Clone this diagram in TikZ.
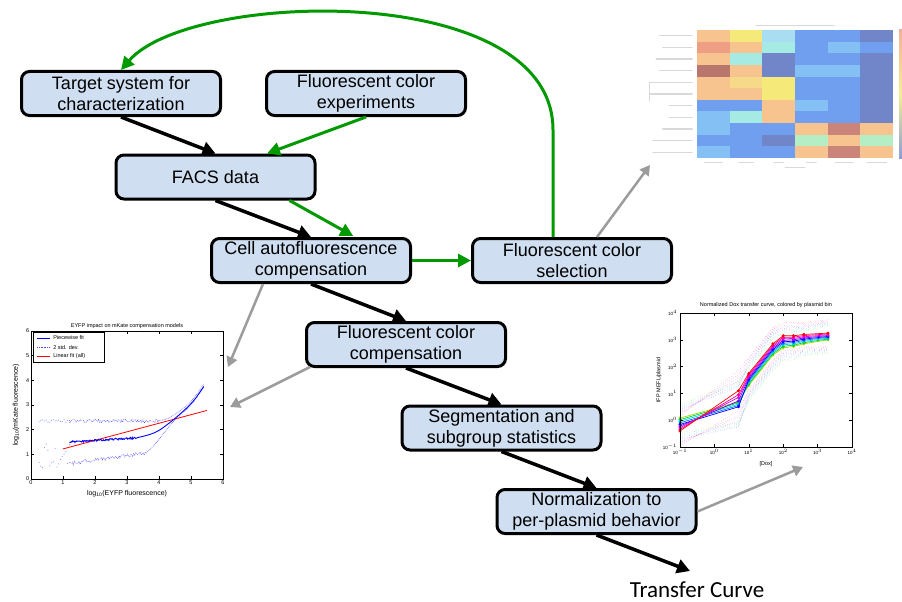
\documentclass[tikz,border=0pt]{standalone}
\usepackage{fontspec}
\setmainfont{Liberation Sans}
\newfontfamily\calfont{Carlito}
\usetikzlibrary{arrows.meta,calc}
\definecolor{boxblue}{HTML}{CFDFF1}
\definecolor{gr}{HTML}{009A00}
\definecolor{lgray}{HTML}{9C9C9C}
% heatmap colours (faded)
\definecolor{hO}{HTML}{F7C48F}
\definecolor{hY}{HTML}{F5E97A}
\definecolor{hLC}{HTML}{A9DDF2}
\definecolor{hCY}{HTML}{A6EBE3}
\definecolor{hB}{HTML}{6F9FEE}
\definecolor{hLB}{HTML}{85C0F4}
\definecolor{hDB}{HTML}{7086C9}
\definecolor{hSA}{HTML}{EE9E82}
\definecolor{hBR}{HTML}{B8766C}
\definecolor{hRB}{HTML}{CB8479}
\definecolor{hYO}{HTML}{F7D98A}
\definecolor{hMG}{HTML}{B5EEC5}
% plot line colours
\definecolor{rdc}{rgb}{1,0,0}
\definecolor{pkc}{rgb}{1,0,0.55}
\definecolor{mgc}{rgb}{0.85,0,0.95}
\definecolor{puc}{rgb}{0.45,0,1}
\definecolor{blc}{rgb}{0,0,1}
\definecolor{lbc}{rgb}{0,0.45,1}
\definecolor{cyc}{rgb}{0,0.85,0.85}
\definecolor{grc}{rgb}{0,0.8,0.2}
\definecolor{ygc}{rgb}{0.6,0.85,0}
\tikzset{
  box/.style={draw=black, line width=3pt, rounded corners=8pt, fill=boxblue,
    minimum width=199pt, minimum height=44pt, inner sep=0pt, align=center,
    font=\fontsize{18}{21}\selectfont},
  barrow/.style={draw=black, line width=3.5pt, -{Triangle[length=13pt,width=14pt]}},
  garrow/.style={draw=gr, line width=3pt, -{Triangle[length=13pt,width=13pt]}},
  grayarrow/.style={draw=lgray, line width=2.5pt, -{Triangle[length=10pt,width=11pt]}},
  tinylbl/.style={font=\fontsize{5.5}{6}\selectfont, inner sep=1pt},
  ghost/.style={draw=gray!30, line width=1.3pt, line cap=round}
}
\begin{document}
\begin{tikzpicture}[x=1pt,y=-1pt]
\useasboundingbox (0,0) rectangle (902,602);
\fill[white] (0,0) rectangle (902,602);

% ---------------- heatmap (top right) ----------------
\begin{scope}[shift={(697,30)}, x=32.67pt, y=-11.64pt]
  \foreach \row [count=\r from 0] in {
    {hO,hY,hLC,hB,hB,hDB},
    {hSA,hO,hCY,hB,hLB,hB},
    {hO,hCY,hDB,hB,hB,hDB},
    {hBR,hO,hDB,hLB,hLB,hDB},
    {hO,hYO,hY,hB,hB,hDB},
    {hO,hO,hY,hB,hB,hDB},
    {hB,hB,hO,hLB,hB,hDB},
    {hLB,hCY,hO,hB,hB,hDB},
    {hLB,hB,hB,hO,hRB,hO},
    {hB,hB,hDB,hMG,hO,hMG},
    {hLB,hB,hB,hO,hRB,hO}} {
    \foreach \cc [count=\c from 0] in \row {
      \fill[\cc] (\c,\r) rectangle ++(1,1);
    }
  }
  \foreach \r/\l in {0/1.0,1/0.9,2/1.1,3/1.0,4/1.3,5/1.3,6/0.7,7/0.7,8/0.9,9/1.2,10/1.2}
    \draw[ghost] (-0.15,\r+0.5) -- ++(-\l,0);
  \foreach \c/\l in {0/0.55,1/0.45,2/0.3,3/0.3,4/0.55,5/0.6}
    \draw[ghost, line width=1pt] (\c+0.5-\l/2,11.35) -- ++(\l,0);
  \draw[ghost, line width=1pt] (2.7,11.85) -- ++(0.6,0);
  \draw[ghost, line width=1pt] (1.8,-0.35) -- ++(2.4,0);
  \draw[ghost, line width=1pt] (-1.45,4.5) -- ++(0,1.6);
\end{scope}
\shade[top color=hSA!80, bottom color=hDB!80, middle color=hY!80] (899,30) rectangle (906,158);

% ---------------- left plot ----------------
\begin{scope}[shift={(31,479)}, x=32pt, y=24.667pt]
  \pgfmathsetseed{7}
  \draw[blue!45] plot[only marks, mark=*, mark size=0.25pt, domain=0.25:1.2, samples=18] (\x,{2.35+0.05*rand});
  \draw[blue!45] plot[only marks, mark=*, mark size=0.25pt, domain=0.25:1.2, samples=18] (\x,{0.95+0.5*rand});
  \draw[blue!70, densely dotted, line width=0.6pt] plot[domain=1.2:4.0, samples=90] (\x,{2.35+0.07*rand});
  \draw[blue!70, densely dotted, line width=0.6pt] plot[smooth] coordinates {(4.0,2.36) (4.3,2.47) (4.6,2.72) (5,3.15) (5.4,3.85)};
  \draw[blue!70, densely dotted, line width=0.6pt] plot[domain=1.2:3.6, samples=80] (\x,{0.62+0.18*(\x-1.2)+0.08*rand});
  \draw[blue!70, densely dotted, line width=0.6pt] plot[smooth] coordinates {(3.6,1.05) (3.9,1.45) (4.2,1.95) (4.5,2.4) (5,3.0) (5.4,3.75)};
  \draw[red, line width=0.8pt] (1,1.22) -- (5.5,2.78);
  \draw[blue, line width=0.9pt] plot[domain=1.2:3.3, samples=110] (\x,{1.5+0.08*(\x-1.2)+0.04*rand});
  \draw[blue, line width=0.9pt] plot[smooth] coordinates {(3.3,1.67) (3.7,1.8) (4,1.97) (4.4,2.35) (4.8,2.8) (5.1,3.2) (5.4,3.75)};
  \draw[line width=0.7pt] (0,0) rectangle (6,6);
  \foreach \i in {0,...,6} {
    \draw[line width=0.4pt] (\i,0) -- (\i,0.12) (\i,6) -- (\i,5.88);
    \draw[line width=0.4pt] (0,\i) -- (0.09,\i) (6,\i) -- (5.91,\i);
    \node[tinylbl, below] at (\i,-0.02) {\i};
    \node[tinylbl, left] at (-0.02,\i) {\i};
  }
  \node[tinylbl, above] at (3,6.05) {EYFP impact on mKate compensation models};
  \draw[fill=white, line width=0.5pt] (0.06,5.94) rectangle (2.28,4.74);
  \draw[blue, line width=0.8pt] (0.2,5.72) -- (0.6,5.72);
  \draw[blue!70, densely dotted, line width=0.6pt] (0.2,5.35) -- (0.6,5.35);
  \draw[red, line width=0.8pt] (0.2,4.99) -- (0.6,4.99);
  \node[tinylbl, anchor=west] at (0.66,5.72) {Piecewise fit};
  \node[tinylbl, anchor=west] at (0.66,5.35) {2 std. dev.};
  \node[tinylbl, anchor=west] at (0.66,4.99) {Linear fit (all)};
\end{scope}
\node[font=\fontsize{7}{8}\selectfont] at (127,494) {log\textsubscript{10}(EYFP fluorescence)};
\node[font=\fontsize{7}{8}\selectfont, rotate=90] at (16,405) {log\textsubscript{10}(mKate fluorescence)};

% ---------------- right plot ----------------
\begin{scope}[shift={(680,447)}, x=34.4pt, y=26.8pt]
  \foreach \k/\c/\m in {8/ygc/1.68, 7/grc/1.65, 6/cyc/1.6, 5/lbc/1.55, 4/blc/1.5, 3/puc/1.72, 2/mgc/1.85, 1/pkc/1.95, 0/rdc/2.1} {
    \pgfmathsetmacro\t{\k/8}
    \pgfmathsetmacro\ya{0.6+0.48*\t}
    \pgfmathsetmacro\yc{2.75-0.45*\t}
    \pgfmathsetmacro\yd{3.85-0.42*\t}
    \pgfmathsetmacro\ye{4.15-0.45*\t}
    \pgfmathsetmacro\yf{4.15-0.4*\t}
    \pgfmathsetmacro\yg{4.2-0.35*\t}
    \pgfmathsetmacro\yh{4.25-0.25*\t}
    \foreach \s in {1,-1}
      \draw[\c, dotted, line width=0.4pt, opacity=0.55]
        (0,{\ya+\s*0.55}) -- (1.7,{\m+\s*0.75}) -- (2,{\yc+\s*0.6}) -- (2.7,{\yd+\s*0.6})
        -- (3,{\ye+\s*0.5}) -- (3.3,{\yf+\s*0.5}) -- (3.6,{\yg+\s*0.45}) -- (4.3,{\yh+\s*0.5});
  }
  \foreach \k/\c/\m in {8/ygc/1.68, 7/grc/1.65, 6/cyc/1.6, 5/lbc/1.55, 4/blc/1.5, 3/puc/1.72, 2/mgc/1.85, 1/pkc/1.95, 0/rdc/2.1} {
    \pgfmathsetmacro\t{\k/8}
    \pgfmathsetmacro\ya{0.6+0.48*\t}
    \pgfmathsetmacro\yc{2.75-0.45*\t}
    \pgfmathsetmacro\yd{3.85-0.42*\t}
    \pgfmathsetmacro\ye{4.15-0.45*\t}
    \pgfmathsetmacro\yf{4.15-0.4*\t}
    \pgfmathsetmacro\yg{4.2-0.35*\t}
    \pgfmathsetmacro\yh{4.25-0.25*\t}
    \draw[\c, line width=0.7pt] plot[mark=*, mark size=1.1pt] coordinates
      {(0,\ya) (1.7,\m) (2,\yc) (2.7,\yd) (3,\ye) (3.3,\yf) (3.6,\yg) (4.3,\yh)};
  }
  \draw[line width=0.7pt] (0,0) rectangle (5,5);
  \foreach \i/\e in {0/-1,1/0,2/1,3/2,4/3,5/4} {
    \draw[line width=0.4pt] (\i,0) -- (\i,0.12) (\i,5) -- (\i,4.88);
    \draw[line width=0.4pt] (0,\i) -- (0.09,\i) (5,\i) -- (4.91,\i);
    \node[font=\fontsize{4.5}{5}\selectfont, inner sep=1pt, below] at (\i,-0.05) {10$^{\e}$};
    \node[font=\fontsize{4.5}{5}\selectfont, inner sep=1pt, left] at (-0.05,\i) {10$^{\e}$};
  }
\end{scope}
\node[font=\fontsize{5.5}{6}\selectfont] at (766,305) {Normalized Dox transfer curve, colored by plasmid bin};
\node[font=\fontsize{5.5}{6}\selectfont] at (766,464) {[Dox]};
\node[font=\fontsize{5.5}{6}\selectfont, rotate=90] at (659,380) {IFP MEFL/plasmid};

% ---------------- boxes ----------------
\node[box] (b1) at (121,93.5) {Target system for\\characterization};
\node[box] (b2) at (366,93.5) {Fluorescent color\\experiments};
\node[box] (b3) at (215.5,177) {FACS data};
\node[box] (b4) at (311,260.5) {Cell autofluorescence\\compensation};
\node[box] (b5) at (572,260.5) {Fluorescent color\\selection};
\node[box] (b6) at (406,344.5) {Fluorescent color\\compensation};
\node[box] (b7) at (501.5,428) {Segmentation and\\subgroup statistics};
\node[box] (b8) at (596.5,511.5) {Normalization to\\per-plasmid behavior};
\node[font=\calfont\fontsize{23}{26}\selectfont, inner sep=0pt] (tc) at (697,589.5) {Transfer Curve};
\coordinate (tcin) at (690,571);
\coordinate (heat) at (650,165);
\coordinate (lplotA) at (228,367);
\coordinate (lplotB) at (230,407);
\coordinate (rplot) at (803,467);

% ---------------- connectors ----------------
\draw[barrow] (b1.south) -- (b3.north);
\draw[barrow] (b3.south) -- (b4.north);
\draw[barrow] (b4.south) -- (b6.north);
\draw[barrow] (b6.south) -- (b7.north);
\draw[barrow] (b7.south) -- (b8.north);
\draw[barrow] (b8.south) -- (tcin);
\draw[garrow] (b2.south) -- ($(b3.north)+(51.5,0)$);
\draw[garrow, shorten >=2pt] ($(b3.south)+(74,0)$) -- ($(b4.north)+(44,0)$);
\draw[garrow] (b4.east) -- (b5.west);
\draw[garrow] ($(b5.north)+(-19,0)$) -- ++(0,-107) .. controls (553,-20) and (190,-10) .. (b1.north);
\draw[grayarrow] ($(b5.north)+(25,0)$) -- (heat);
\draw[grayarrow] ($(b4.south west)+(53,0)$) -- (lplotA);
\draw[grayarrow] ($(b6.south west)+(5,-1)$) -- (lplotB);
\draw[grayarrow] (b8.east) -- (rplot);
\end{tikzpicture}
\end{document}
